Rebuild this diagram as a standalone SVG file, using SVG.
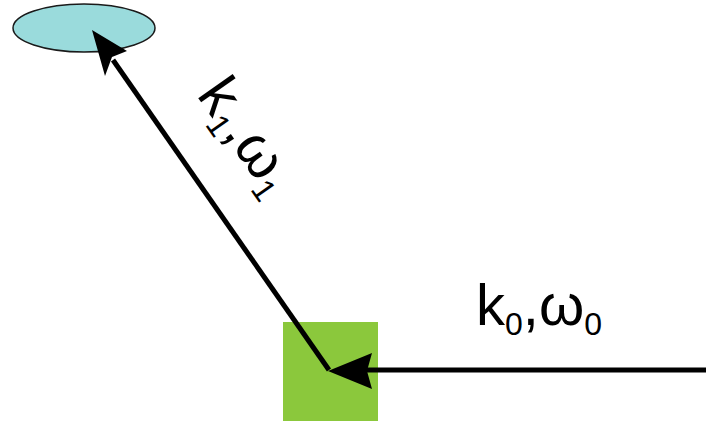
<svg xmlns="http://www.w3.org/2000/svg" width="706" height="421" viewBox="0 0 706 421">
  <defs>
    <style>
      .edge { stroke: #000; stroke-width: 5; fill: none; }
      .lbl { font-family: "Liberation Sans", "DejaVu Sans", sans-serif; font-size: 58px; fill: #000; }
      .sub { font-size: 32px; }
    </style>
  </defs>
  <rect width="706" height="421" fill="#fff"/>
  <g id="target">
    <ellipse cx="84" cy="28" rx="71" ry="24" fill="#9adbdc" stroke="#1a1a1a" stroke-width="1.5"/>
  </g>
  <g id="scatterer">
    <rect x="283" y="322" width="95" height="99" fill="#8bc83c"/>
  </g>
  <g id="connectors">
    <path class="edge" d="M706,370 L366,370"/>
    <path d="M328,371 L372,353 L367,371 L372,389 Z" fill="#000"/>
    <path class="edge" d="M329,370 L113,60"/>
    <path d="M92,30 L127,51 L112,57 L105,76 Z" fill="#000"/>
  </g>
  <g id="labels">
    <text class="lbl" x="476" y="325">k<tspan class="sub" dy="10">0</tspan><tspan dy="-10">,ω</tspan><tspan class="sub" dy="10">0</tspan></text>
    <text class="lbl" transform="translate(196,95) rotate(55)">k<tspan class="sub" dy="10">1</tspan><tspan dy="-10">,ω</tspan><tspan class="sub" dy="10">1</tspan></text>
  </g>
</svg>
